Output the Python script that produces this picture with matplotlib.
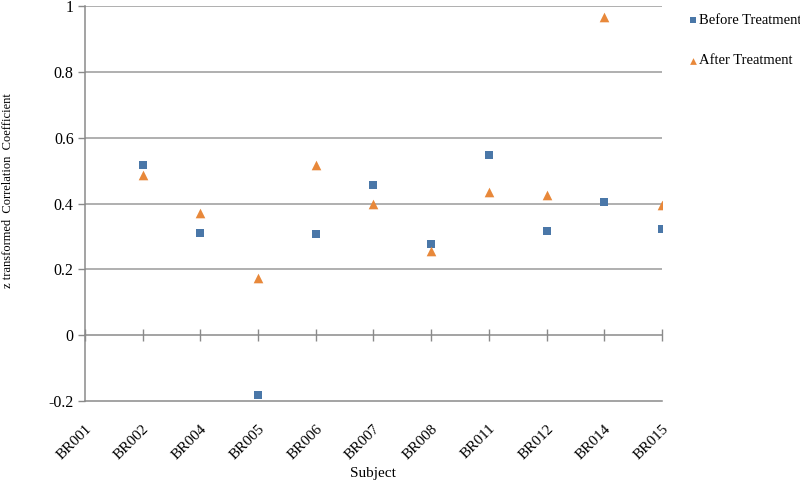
import matplotlib
matplotlib.use("Agg")
import matplotlib.pyplot as plt
import numpy as np

subjects = ["BR001", "BR002", "BR004", "BR005", "BR006", "BR007",
            "BR008", "BR011", "BR012", "BR014", "BR015"]
before = [np.nan, 0.518, 0.309, -0.183, 0.306, 0.457, 0.277, 0.548, 0.315, 0.405, 0.323]
after = [np.nan, 0.488, 0.370, 0.175, 0.517, 0.400, 0.257, 0.434, 0.425, 0.965, 0.395]
yticks = [-0.2, 0, 0.2, 0.4, 0.6, 0.8, 1.0]
ytick_labels = ["-0.2", "0", "0.2", "0.4", "0.6", "0.8", "1"]

plt.rcParams['font.family'] = ['Liberation Serif', 'DejaVu Serif']

fig = plt.figure(figsize=(8, 4.82), dpi=100)
ax = fig.add_axes([0.106, 0.168, 0.7215, 0.8196])

x = np.arange(len(subjects))
blue = "#4A77A8"
orange = "#E8883A"
ax.scatter(x, before, marker="s", s=40, color=blue, label="Before Treatment", zorder=3, linewidths=0)
ax.scatter(x, after, marker="^", s=48, color=orange, label="After Treatment", zorder=3, linewidths=0)

ax.set_xlim(0, len(subjects) - 1)
ax.set_ylim(-0.2, 1.0)
ax.set_yticks(yticks)
ax.set_yticklabels(ytick_labels, fontsize=11.5)
for yv in yticks[2:]:
    ax.axhline(yv, color="#9a9a9a", lw=1.1, zorder=1)

for s in ["top", "right"]:
    ax.spines[s].set_visible(False)
ax.spines["left"].set_color("#8a8a8a")
ax.spines["bottom"].set_color("#8a8a8a")
ax.spines["left"].set_linewidth(1.1)
ax.spines["bottom"].set_linewidth(1.1)
ax.tick_params(axis="y", length=5, color="#8a8a8a", width=1, pad=3)

ax.set_xticks(x)
ax.set_xticklabels(subjects, rotation=45, ha="right", rotation_mode="anchor",
                   fontsize=11)
ax.tick_params(axis="x", length=0, pad=15)

sec = ax.secondary_xaxis(1/6)
sec.set_xticks(x)
sec.set_xticklabels([""] * len(subjects))
sec.tick_params(axis="x", direction="inout", length=8, color="#8a8a8a", width=1)
sec.spines["bottom"].set_color("#8a8a8a")
sec.spines["top"].set_color("#8a8a8a")
sec.spines["top"].set_linewidth(1.1)
sec.spines["bottom"].set_linewidth(1.1)

ax.set_xlabel("Subject", fontsize=11, labelpad=4)
fig.text(8 / 800, 1 - 191 / 482, "z transformed  Correlation  Coefficient",
         rotation=90, ha="center", va="center", fontsize=9)

fig.legend(loc="upper left", bbox_to_anchor=(0.853, 0.983), frameon=False,
           fontsize=10.5, labelspacing=1.85, handletextpad=0.05, handlelength=0.7,
           markerscale=0.7, borderaxespad=0)

fig.savefig("out.png", dpi=100)
